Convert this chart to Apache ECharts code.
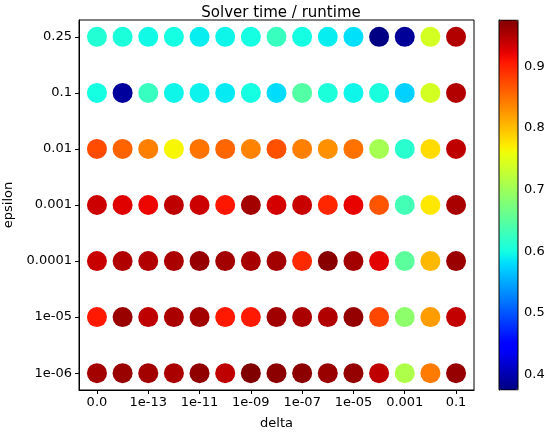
<!DOCTYPE html>
<html>
<head>
<meta charset="utf-8">
<script src="https://cdn.jsdelivr.net/npm/echarts@6/dist/echarts.min.js"></script>
<style>
  html, body { margin: 0; padding: 0; background: #fff; }
  #chart { width: 549px; height: 433px; }
</style>
</head>
<body>
<div id="chart"></div>
<script>
// x categories (delta) and y categories (epsilon)
const deltaLabels = ['0.0', '1e-14', '1e-13', '1e-12', '1e-11', '1e-10', '1e-09', '1e-08',
  '1e-07', '1e-06', '1e-05', '0.0001', '0.001', '0.01', '0.1'];
const epsilonLabels = ['1e-06', '1e-05', '0.0001', '0.001', '0.01', '0.1', '0.25'];

// only every other delta gets a label
const deltaTickIdx = [0, 2, 4, 6, 8, 10, 12, 14];
const colorbarTicks = [0.4, 0.5, 0.6, 0.7, 0.8, 0.9];

// solver time / runtime, one array per epsilon row
const eps1e06 = [0.957, 0.962, 0.957, 0.953, 0.966, 0.942, 0.975, 0.969, 0.969, 0.962, 0.964, 0.942, 0.711, 0.843, 0.963];
const eps1e05 = [0.905, 0.962, 0.942, 0.953, 0.957, 0.905, 0.905, 0.958, 0.953, 0.950, 0.964, 0.876, 0.687, 0.822, 0.940];
const eps1e04 = [0.937, 0.950, 0.949, 0.953, 0.963, 0.957, 0.955, 0.957, 0.895, 0.971, 0.957, 0.924, 0.651, 0.804, 0.961];
const eps1e03 = [0.935, 0.926, 0.918, 0.942, 0.935, 0.906, 0.957, 0.931, 0.937, 0.897, 0.921, 0.867, 0.633, 0.774, 0.954];
const eps1e02 = [0.873, 0.858, 0.840, 0.765, 0.848, 0.857, 0.838, 0.870, 0.840, 0.829, 0.849, 0.705, 0.615, 0.782, 0.942];
const eps1e01 = [0.600, 0.390, 0.625, 0.595, 0.593, 0.588, 0.600, 0.580, 0.645, 0.605, 0.595, 0.603, 0.573, 0.740, 0.949];
const eps025  = [0.610, 0.605, 0.597, 0.600, 0.590, 0.595, 0.600, 0.627, 0.600, 0.590, 0.582, 0.377, 0.388, 0.740, 0.949];

const rows = [eps1e06, eps1e05, eps1e04, eps1e03, eps1e02, eps1e01, eps025];
const vMin = 0.375, vMax = 0.975;

// matplotlib jet colormap
function jet(t) {
  function seg(pts) {
    for (let i = 1; i < pts.length; i++) {
      if (t <= pts[i][0]) {
        const a = pts[i - 1], b = pts[i];
        return a[1] + (b[1] - a[1]) * (t - a[0]) / (b[0] - a[0]);
      }
    }
    return pts[pts.length - 1][1];
  }
  const r = seg([[0, 0], [0.35, 0], [0.66, 1], [0.89, 1], [1, 0.5]]);
  const g = seg([[0, 0], [0.125, 0], [0.375, 1], [0.64, 1], [0.91, 0], [1, 0]]);
  const b = seg([[0, 0.5], [0.11, 1], [0.34, 1], [0.65, 0], [1, 0]]);
  const h = v => Math.round(v * 255).toString(16).padStart(2, '0');
  return '#' + h(r) + h(g) + h(b);
}
const jetColors = [];
for (let i = 0; i <= 64; i++) jetColors.push(jet(i / 64));

const points = [];
rows.forEach((row, yi) => {
  row.forEach((v, xi) => points.push([xi, yi, v]));
});

const font = 'DejaVu Sans';
const chart = echarts.init(document.getElementById('chart'));
chart.setOption({
  animation: false,
  textStyle: { fontFamily: font },
  title: {
    text: 'Solver time / runtime',
    left: 276, top: 1, textAlign: 'center',
    textStyle: { fontFamily: font, fontSize: 15, fontWeight: 'normal', color: '#000' }
  },
  grid: [
    { left: 79, top: 20, width: 395, height: 370, show: true, borderColor: '#000', borderWidth: 1, outerBoundsMode: 'none', containLabel: false },
    { left: 499, top: 20, width: 19, height: 370, show: false, outerBoundsMode: 'none', containLabel: false }
  ],
  xAxis: [
    {
      type: 'value', gridIndex: 0, min: -0.7, max: 14.7,
      name: 'delta', nameLocation: 'middle', nameGap: 27,
      nameTextStyle: { fontFamily: font, fontSize: 13, color: '#000' },
      splitLine: { show: false },
      axisLine: { show: true, onZero: false, lineStyle: { color: '#000' } },
      axisTick: { show: true, length: 4, customValues: deltaTickIdx, lineStyle: { color: '#000' } },
      axisLabel: {
        customValues: deltaTickIdx, margin: 6, fontSize: 13, color: '#000', fontFamily: font,
        formatter: v => deltaLabels[v]
      }
    },
    { type: 'value', gridIndex: 1, show: false, min: 0, max: 1 }
  ],
  yAxis: [
    {
      type: 'value', gridIndex: 0, min: -0.3, max: 6.3,
      name: 'epsilon', nameLocation: 'middle', nameGap: 64, nameRotate: 90,
      nameTextStyle: { fontFamily: font, fontSize: 13, color: '#000' },
      splitLine: { show: false },
      axisLine: { show: true, onZero: false, lineStyle: { color: '#000' } },
      axisTick: { show: true, length: 4, customValues: [0, 1, 2, 3, 4, 5, 6], lineStyle: { color: '#000' } },
      axisLabel: {
        customValues: [0, 1, 2, 3, 4, 5, 6], margin: 7, fontSize: 13, color: '#000', fontFamily: font,
        formatter: v => epsilonLabels[v]
      }
    },
    {
      type: 'value', gridIndex: 1, position: 'right', min: vMin, max: vMax,
      splitLine: { show: false },
      axisLine: { show: true, lineStyle: { color: '#000' } },
      axisTick: { show: true, length: 4, customValues: colorbarTicks, lineStyle: { color: '#000' } },
      axisLabel: {
        customValues: colorbarTicks, margin: 6, fontSize: 13, color: '#000', fontFamily: font,
        formatter: v => v.toFixed(1)
      }
    }
  ],
  visualMap: {
    type: 'continuous', min: vMin, max: vMax, dimension: 2, seriesIndex: 0,
    left: 499, top: 20, itemWidth: 19, itemHeight: 370, padding: 0,
    text: null, calculable: false, hoverLink: false, showLabel: false,
    inRange: { color: jetColors },
    borderColor: '#000', borderWidth: 0
  },
  series: [
    {
      type: 'scatter', xAxisIndex: 0, yAxisIndex: 0,
      symbolSize: 20, data: points, itemStyle: { opacity: 1 }
    },
    {
      // outline of the colorbar
      type: 'line', xAxisIndex: 1, yAxisIndex: 1, silent: true, symbol: 'none',
      lineStyle: { color: '#000', width: 1 },
      data: [[0, vMin], [0, vMax], [1, vMax], [1, vMin], [0, vMin]], z: 10
    }
  ]
});
</script>
</body>
</html>
